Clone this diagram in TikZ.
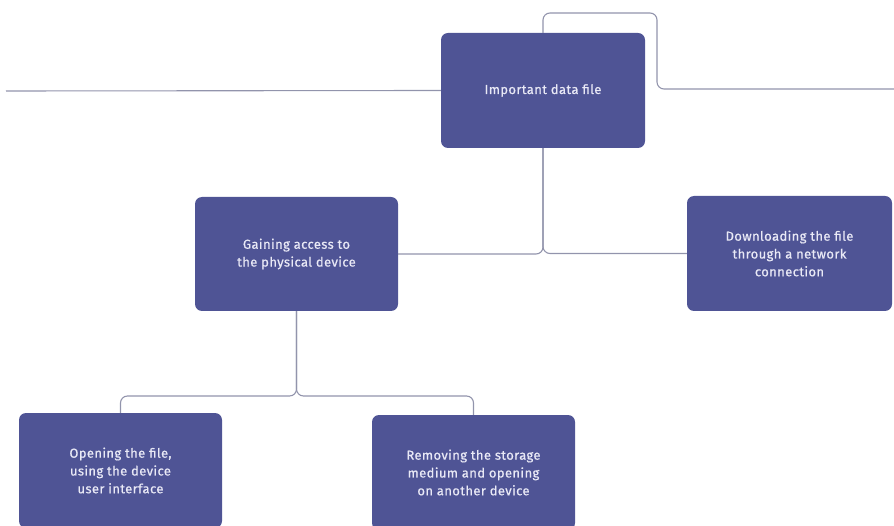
\documentclass[tikz,border=0pt]{standalone}
\usepackage{fontspec}
\setmainfont{Fira Sans}
\newfontfamily\cardfont{Fira Sans}[LetterSpace=3.0, FakeBold=0.6]
\definecolor{boxc}{HTML}{4F5495}
\definecolor{linec}{HTML}{9294AC}
\definecolor{txtc}{HTML}{E9E9F6}
\tikzset{
  card/.style={rectangle, rounded corners=7pt, fill=boxc, minimum width=204pt,
    minimum height=115pt, align=center, text=txtc, inner sep=0pt,
    font=\cardfont\fontsize{13}{17.8}\selectfont},
  link/.style={draw=linec, line width=1.1pt, rounded corners=7pt},
}
\begin{document}
\begin{tikzpicture}[x=1pt,y=-1pt]
\useasboundingbox (0,0) rectangle (894,526);
\node[card] (b1) at (543,90.5) {Important data file};
\node[card, minimum width=203pt, minimum height=114pt] (b2) at (296.5,254) {Gaining access to\\the physical device};
\node[card, minimum width=205pt] (b3) at (789.5,253.5) {Downloading the file\\through a network\\connection};
\node[card, minimum width=203pt] (b4) at (120.5,470.5) {Opening the file,\\using the device\\user interface};
\node[card, minimum width=203pt] (b5) at (473.5,472.5) {Removing the storage\\medium and opening\\on another device};
\coordinate (lft) at (6,91);
\coordinate (rgt) at (894,89);
\coordinate (f2) at (296.5,396);
\draw[link] (lft) -- (b1.west);
\draw[link] (b1.north) -- (543,13) -- (657,13) -- (657,89) -- (rgt);
\draw[link] (b1.south) |- (b2.east);
\draw[link] (b1.south) |- (b3.west);
\draw[link] (b2.south) -- (f2) -| (b4.north);
\draw[link] (b2.south) -- (f2) -| (b5.north);
\end{tikzpicture}
\end{document}
